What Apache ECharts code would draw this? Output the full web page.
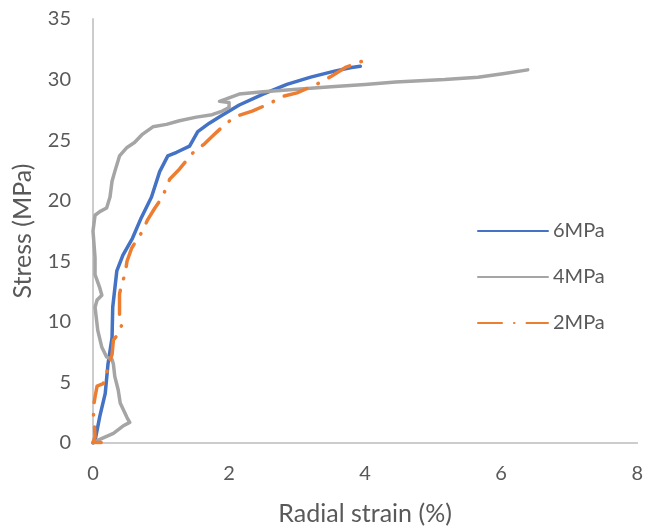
<!DOCTYPE html>
<html>
<head>
<meta charset="utf-8">
<script src="https://cdn.jsdelivr.net/npm/echarts@6/dist/echarts.min.js"></script>
<style>
html,body{margin:0;padding:0;background:#fff;}
#chart{width:646px;height:531px;}
</style>
</head>
<body>
<div id="chart"></div>
<script>
// Tick settings
const xTicks = [0, 2, 4, 6, 8];
const yTicks = [0, 5, 10, 15, 20, 25, 30, 35];
const seriesNames = ['6MPa', '4MPa', '2MPa'];

// 6MPa
const strain6 = [0, 0.03, 0.1, 0.18, 0.22, 0.28, 0.29, 0.35, 0.44, 0.58, 0.71, 0.86, 0.98, 1.1, 1.23, 1.42, 1.54, 1.71, 1.88, 2.15, 2.5, 2.85, 3.2, 3.55, 3.8, 3.93];
const stress6 = [0, 0.2, 2.2, 4.1, 6.5, 8.7, 11.2, 14.2, 15.5, 16.9, 18.6, 20.3, 22.4, 23.7, 24.0, 24.5, 25.7, 26.4, 27.0, 27.9, 28.8, 29.6, 30.2, 30.7, 31.0, 31.1];

// 4MPa
const strain4 = [0, 0.1, 0.3, 0.44, 0.54, 0.5, 0.4, 0.37, 0.32, 0.3, 0.28, 0.2, 0.13, 0.07, 0.03, 0.06, 0.13, 0.1, 0.03, 0.03, 0.0, 0.03, 0.1, 0.2, 0.25, 0.28, 0.32, 0.39, 0.5, 0.61, 0.73, 0.88, 1.08, 1.27, 1.52, 1.75, 1.9, 2.0, 2.0, 1.86, 1.96, 2.05, 2.15, 2.5, 3.0, 3.5, 4.0, 4.45, 5.17, 5.66, 6.05, 6.39];
const stress4 = [0, 0.3, 0.8, 1.4, 1.7, 2.1, 3.3, 4.4, 5.5, 6.5, 6.9, 7.1, 7.9, 9.3, 11.2, 11.8, 12.2, 12.8, 13.9, 15.3, 17.5, 18.8, 19.1, 19.4, 20.3, 21.6, 22.4, 23.7, 24.4, 24.8, 25.5, 26.1, 26.3, 26.6, 26.9, 27.1, 27.4, 27.7, 28.1, 28.2, 28.4, 28.6, 28.8, 29.0, 29.2, 29.4, 29.6, 29.8, 30.0, 30.2, 30.5, 30.8];

// 2MPa
const strain2 = [0.12, 0, 0.03, 0.02, 0.0, 0.03, 0.06, 0.15, 0.2, 0.22, 0.28, 0.3, 0.37, 0.42, 0.39, 0.39, 0.39, 0.42, 0.47, 0.5, 0.57, 0.66, 0.73, 0.8, 0.91, 1.02, 1.13, 1.27, 1.46, 1.64, 1.75, 1.96, 2.12, 2.34, 2.59, 2.78, 3.0, 3.32, 3.51, 3.71, 3.9, 4.05];
const stress2 = [0.05, 0.05, 0.5, 1.6, 2.8, 3.8, 4.7, 4.9, 5.7, 6.3, 7.3, 8.5, 9.0, 9.7, 10.1, 11.1, 12.3, 13.1, 13.9, 15.0, 16.1, 16.9, 17.5, 18.4, 19.4, 20.3, 21.8, 22.6, 23.9, 24.7, 25.3, 26.4, 27.0, 27.4, 28.0, 28.6, 28.9, 29.7, 30.3, 31.0, 31.4, 31.7];

function zip(xs, ys) { return xs.map((x, i) => [x, ys[i]]); }

const FONT = 'Lato, "Open Sans", sans-serif';
const chart = echarts.init(document.getElementById('chart'), null, {renderer: 'canvas'});
chart.setOption({
  animation: false,
  backgroundColor: '#ffffff',
  grid: {left: 93, right: 6, top: 19, bottom: 84},
  legend: {
    orient: 'vertical',
    left: 472,
    top: 216,
    itemWidth: 70,
    itemHeight: 20,
    itemGap: 26,
    itemStyle: {opacity: 0},
    textStyle: {color: '#595959', fontSize: 20, lineHeight: 20, fontFamily: FONT},
    data: seriesNames
  },
  xAxis: {
    type: 'value',
    min: xTicks[0], max: xTicks[xTicks.length - 1], interval: 2,
    name: 'Radial strain (%)',
    nameLocation: 'middle', nameGap: 58,
    nameTextStyle: {color: '#595959', fontSize: 25, fontFamily: FONT},
    axisLine: {show: true, lineStyle: {color: '#cccccc', width: 2}},
    axisTick: {show: false},
    splitLine: {show: false},
    axisLabel: {color: '#595959', fontSize: 20, fontFamily: FONT, margin: 21}
  },
  yAxis: {
    type: 'value',
    min: yTicks[0], max: yTicks[yTicks.length - 1], interval: 5,
    name: 'Stress (MPa)',
    nameLocation: 'middle', nameGap: 58,
    nameTextStyle: {color: '#595959', fontSize: 25, fontFamily: FONT},
    axisLine: {show: true, lineStyle: {color: '#cccccc', width: 2}},
    axisTick: {show: false},
    splitLine: {show: false},
    axisLabel: {color: '#595959', fontSize: 20, fontFamily: FONT, margin: 22}
  },
  series: [
    {
      name: seriesNames[0], type: 'line', data: zip(strain6, stress6),
      symbol: 'none', smooth: false,
      lineStyle: {color: '#4472C4', width: 3.5, cap: 'round', join: 'round'},
      itemStyle: {color: '#4472C4'}
    },
    {
      name: seriesNames[1], type: 'line', data: zip(strain4, stress4),
      symbol: 'none', smooth: false,
      lineStyle: {color: '#A5A5A5', width: 3.5, cap: 'round', join: 'round'},
      itemStyle: {color: '#A5A5A5'}
    },
    {
      name: seriesNames[2], type: 'line', data: zip(strain2, stress2),
      symbol: 'none', smooth: false,
      lineStyle: {color: '#ED7D31', width: 3.5, cap: 'round', join: 'round', type: [24, 12, 0.5, 12]},
      itemStyle: {color: '#ED7D31'}
    }
  ]
});
</script>
</body>
</html>
